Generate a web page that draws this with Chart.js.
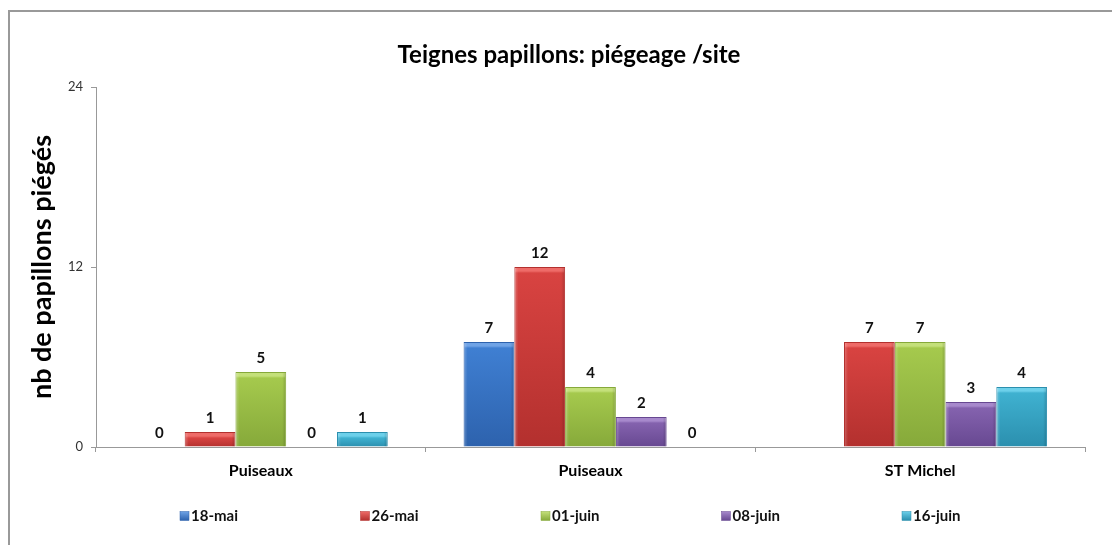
<!DOCTYPE html>
<html><head><meta charset="utf-8">
<script src="https://cdn.jsdelivr.net/npm/chart.js@4/dist/chart.umd.min.js"></script>
<style>
html,body{margin:0;padding:0;background:#fff;overflow:hidden;width:1112px;height:545px}
#wrap{position:relative;width:1112px;height:545px;overflow:hidden}
#frame{position:absolute;left:8px;top:10px;width:1200px;height:700px;border:2px solid #999;box-sizing:border-box}
canvas{position:absolute;left:0;top:0}
</style></head><body>
<div id="wrap"><div id="frame"></div><canvas id="c" width="1112" height="545"></canvas></div>
<script>
const categories = ['Puiseaux', 'Puiseaux', 'ST Michel'];
const seriesNames = ['18-mai', '26-mai', '01-juin', '08-juin', '16-juin'];
const s18mai  = [0, 7, null];
const s26mai  = [1, 12, 7];
const s01juin = [5, 4, 7];
const s08juin = [0, 2, 3];
const s16juin = [1, 0, 4];
const yTickValues = [0, 12, 24];
const chartTitle = 'Teignes papillons: piégeage /site';
const yTitle = 'nb de papillons piégés';

const palette = [
  {light:'#6fa3e6', base:'#3f7fd2', dark:'#2d62ad'},
  {light:'#ee6b68', base:'#d84341', dark:'#b3302e'},
  {light:'#c4e07a', base:'#a5c94d', dark:'#86a93a'},
  {light:'#a789cc', base:'#8462ae', dark:'#674891'},
  {light:'#6cd0ea', base:'#3fb1d0', dark:'#2b8fae'}
];
const seriesValues = [s18mai, s26mai, s01juin, s08juin, s16juin];
const FONT = 'Lato, "Liberation Sans", sans-serif';
Chart.defaults.font.family = FONT;

function barFill(ctx, i) {
  const chart = ctx.chart, v = ctx.raw, p = palette[i];
  if (!chart.chartArea || v == null || !chart.scales.y) return p.base;
  const ys = chart.scales.y;
  const top = ys.getPixelForValue(v), bot = ys.getPixelForValue(0);
  if (bot - top < 2) return p.base;
  const g = chart.ctx.createLinearGradient(0, top, 0, bot);
  const f = Math.min(0.5, 4 / (bot - top));
  g.addColorStop(0, p.light);
  g.addColorStop(f, p.light);
  g.addColorStop(Math.min(1, f * 1.5), p.base);
  g.addColorStop(1, p.dark);
  return g;
}

const datasets = seriesNames.map((name, i) => ({
  label: name,
  data: seriesValues[i],
  backgroundColor: (ctx) => barFill(ctx, i),
  borderColor: palette[i].dark,
  borderWidth: 1,
  categoryPercentage: 0.77,
  barPercentage: 1.0
}));

const bevelPlugin = {
  id: 'bevel',
  afterDatasetsDraw(chart) {
    const c = chart.ctx;
    chart.data.datasets.forEach((ds, i) => {
      const meta = chart.getDatasetMeta(i);
      meta.data.forEach((el, j) => {
        const v = ds.data[j];
        if (v == null || v === 0) return;
        const w = el.width, l = el.x - w / 2, r = el.x + w / 2;
        const t = el.y, b = el.base;
        c.save();
        let g = c.createLinearGradient(l, 0, l + 4, 0);
        g.addColorStop(0, 'rgba(255,255,255,0.25)'); g.addColorStop(1, 'rgba(255,255,255,0)');
        c.fillStyle = g; c.fillRect(l + 1, t + 1, 4, b - t - 1);
        g = c.createLinearGradient(r - 4, 0, r, 0);
        g.addColorStop(0, 'rgba(0,0,0,0)'); g.addColorStop(1, 'rgba(0,0,0,0.18)');
        c.fillStyle = g; c.fillRect(r - 5, t + 1, 4, b - t - 1);
        c.restore();
      });
    });
  }
};

const labelPlugin = {
  id: 'valueLabels',
  afterDatasetsDraw(chart) {
    const c = chart.ctx;
    c.save();
    c.font = 'bold 15px ' + FONT;
    c.fillStyle = '#111';
    c.textAlign = 'center';
    c.textBaseline = 'bottom';
    chart.data.datasets.forEach((ds, i) => {
      const meta = chart.getDatasetMeta(i);
      meta.data.forEach((el, j) => {
        const v = ds.data[j];
        if (v == null) return;
        c.fillText(String(v), el.x, el.y - 6);
      });
    });
    c.restore();
  }
};

const titlePlugin = {
  id: 'customTitle',
  afterDraw(chart) {
    const c = chart.ctx;
    c.save();
    c.font = 'bold 24px ' + FONT;
    c.fillStyle = '#000';
    c.textAlign = 'center';
    c.textBaseline = 'middle';
    c.fillText(chartTitle, 569, 55);
    c.restore();
  }
};

const legendPlugin = {
  id: 'customLegend',
  afterDraw(chart) {
    const c = chart.ctx;
    c.save();
    c.font = 'bold 15px ' + FONT;
    c.textBaseline = 'middle';
    c.textAlign = 'left';
    const y = 516;
    chart.data.datasets.forEach((ds, i) => {
      const x = 180 + i * 180.5;
      const p = palette[i];
      const g = c.createLinearGradient(0, y - 4.5, 0, y + 4.5);
      g.addColorStop(0, p.light); g.addColorStop(1, p.dark);
      c.fillStyle = g;
      c.fillRect(x, y - 4.5, 9, 9);
      c.strokeStyle = p.dark; c.lineWidth = 0.5;
      c.strokeRect(x, y - 4.5, 9, 9);
      c.fillStyle = '#111';
      c.fillText(ds.label, x + 11, y + 0.5);
    });
    c.restore();
  }
};

new Chart(document.getElementById('c'), {
  type: 'bar',
  data: { labels: categories, datasets },
  options: {
    responsive: false,
    animation: false,
    layout: { padding: { left: 0, right: 27, top: 87, bottom: 0 } },
    plugins: {
      legend: { display: false },
      tooltip: { enabled: false },
      title: { display: false }
    },
    scales: {
      x: {
        afterFit(s) { s.height = 98; },
        grid: { drawOnChartArea: false, tickLength: 5, color: '#999', offset: true },
        border: { color: '#999', width: 1 },
        ticks: { color: '#000', font: { size: 16, weight: 'bold', family: FONT }, padding: 9 }
      },
      y: {
        min: 0, max: 24,
        afterFit(s) { s.width = 96; },
        afterBuildTicks(s) { s.ticks = yTickValues.map(v => ({ value: v })); },
        grid: { drawOnChartArea: false, tickLength: 5, color: '#999' },
        border: { color: '#999', width: 1 },
        ticks: { color: '#333', font: { size: 13, family: FONT }, padding: 8 },
        title: {
          display: true, text: yTitle, color: '#000',
          font: { size: 27, weight: 'bold', family: FONT },
          padding: { top: 26, bottom: 0 }
        }
      }
    }
  },
  plugins: [bevelPlugin, labelPlugin, titlePlugin, legendPlugin]
});
</script>
</body></html>
